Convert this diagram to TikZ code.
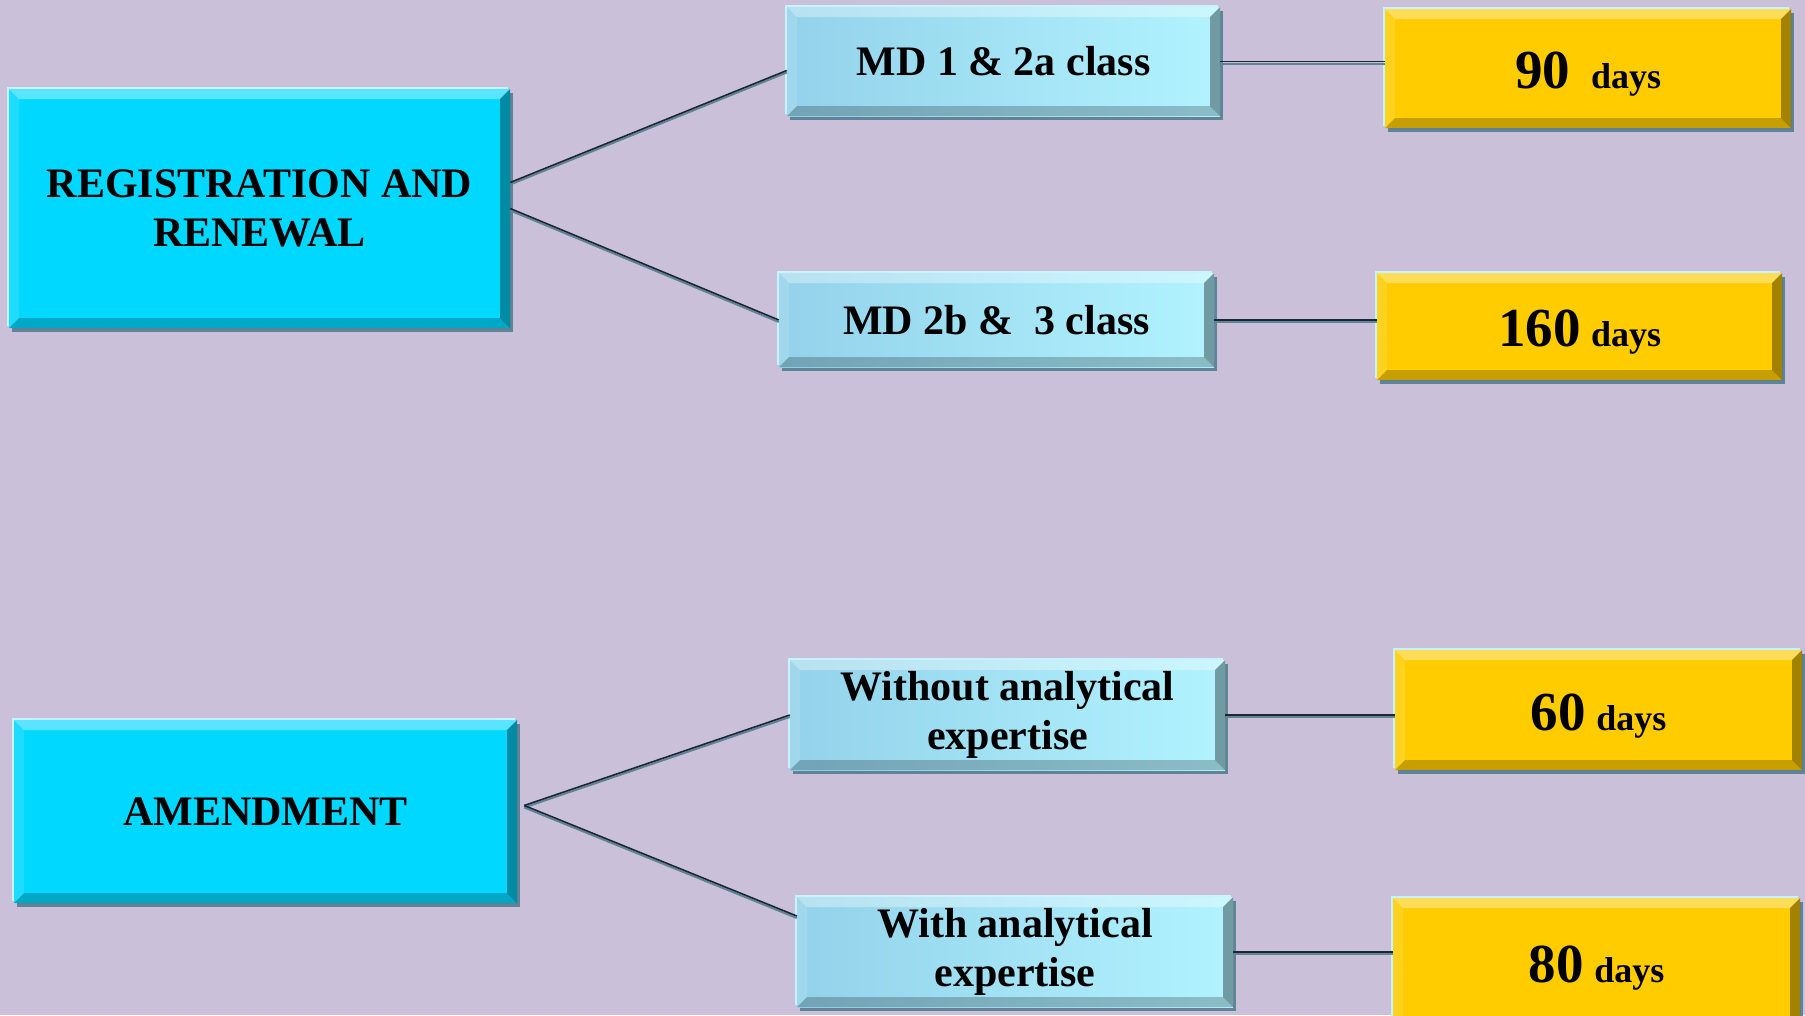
\documentclass[tikz,border=0pt]{standalone}
\usepackage{fontspec}
\setmainfont{Liberation Serif}
\usetikzlibrary{shadows}

\definecolor{bgpurple}{HTML}{CBC0DA}
\definecolor{maincyan}{HTML}{00D8FF}
\definecolor{subleft}{HTML}{93D2EA}
\definecolor{subright}{HTML}{B2F3FF}
\definecolor{daysgold}{HTML}{FFCC00}
\definecolor{rimlight}{HTML}{C6F3FF}
\definecolor{rimdark}{HTML}{5F8498}
\definecolor{linkdark}{HTML}{1C2733}

\tikzset{
  bevel/.style={path picture={
    \coordinate (nw) at (path picture bounding box.north west);
    \coordinate (ne) at (path picture bounding box.north east);
    \coordinate (sw) at (path picture bounding box.south west);
    \coordinate (se) at (path picture bounding box.south east);
    \fill[white,opacity=.35] (nw) -- (ne) -- ([shift={(-10pt,-10pt)}]ne) -- ([shift={(10pt,-10pt)}]nw) -- cycle;
    \fill[white,opacity=.12] (nw) -- (sw) -- ([shift={(10pt,10pt)}]sw) -- ([shift={(10pt,-10pt)}]nw) -- cycle;
    \fill[black,opacity=.22] (sw) -- (se) -- ([shift={(-10pt,10pt)}]se) -- ([shift={(10pt,10pt)}]sw) -- cycle;
    \fill[black,opacity=.36] (ne) -- (se) -- ([shift={(-10pt,10pt)}]se) -- ([shift={(-10pt,-10pt)}]ne) -- cycle;
  }},
  box/.style={bevel, align=center, inner sep=4pt,
    font=\bfseries\fontsize{42}{49}\selectfont,
    general shadow={shadow xshift=-2pt, shadow yshift=2pt, fill=rimlight},
    drop shadow={shadow xshift=3pt, shadow yshift=-4pt, fill=rimdark, opacity=1}},
  mainbox/.style={box, fill=maincyan},
  classbox/.style={box, left color=subleft, right color=subright},
  daysbox/.style={box, fill=daysgold},
  link/.style={draw=linkdark, line width=1.6pt,
    preaction={draw=rimdark, line width=2pt, transform canvas={yshift=-2pt}}},
}
\newcommand{\daystext}[2]{\raisebox{-6pt}[\height][\depth]{{\fontsize{55}{60}\selectfont #1}#2{\fontsize{36}{40}\selectfont days}}}

\begin{document}
\begin{tikzpicture}[x=1pt,y=-1pt]
% Slide background
\useasboundingbox (0,0) rectangle (1805,1015);
\clip (0,0) rectangle (1805,1015);
\fill[bgpurple] (0,0) rectangle (1805,1015);

% Main boxes
\node[mainbox, minimum width=501pt, minimum height=239pt] (reg) at (259.5,208.5) {REGISTRATION AND\\RENEWAL};
\node[mainbox, minimum width=503pt, minimum height=183pt] (amend) at (265.5,811.5) {AMENDMENT};

% Class boxes
\node[classbox, minimum width=433pt, minimum height=109pt] (md1) at (1003.5,61.5) {MD 1 \& 2a class};
\node[classbox, minimum width=435pt, minimum height=94pt] (md2) at (996.5,320) {MD 2b \&\ \ 3 class};
\node[classbox, minimum width=435pt, minimum height=110pt] (wo) at (1007.5,715) {Without analytical\\expertise};
\node[classbox, minimum width=436pt, minimum height=110pt] (wi) at (1015,952) {With analytical\\expertise};

% Time limits
\node[daysbox, minimum width=406pt, minimum height=119pt] (d90) at (1588,68.5) {\daystext{90}{\ \ }};
\node[daysbox, minimum width=405pt, minimum height=107pt] (d160) at (1579.5,326.5) {\daystext{160}{\ }};
\node[daysbox, minimum width=407pt, minimum height=120pt] (d60) at (1598.5,710) {\daystext{60}{\ }};
\node[daysbox, minimum width=407pt, minimum height=128pt] (d80) at (1596.5,962) {\daystext{80}{\ }};

% Links to the classes
\draw[link] ([yshift=26pt]reg.east) -- ([yshift=-9pt]md1.west);
\draw[link] (reg.east) -- (md2.west);
\coordinate (fork) at ([xshift=7pt,yshift=6pt]amend.east);
\draw[link] (fork) -- (wo.west);
\draw[link] (fork) -- ([yshift=36pt]wi.west);

% Links to the time limits
\foreach \a/\b in {md1/d90, md2/d160, wo/d60, wi/d80} {
    \draw[link] (\a.east) -- (\a.east -| \b.west);
}
\end{tikzpicture}
\end{document}
